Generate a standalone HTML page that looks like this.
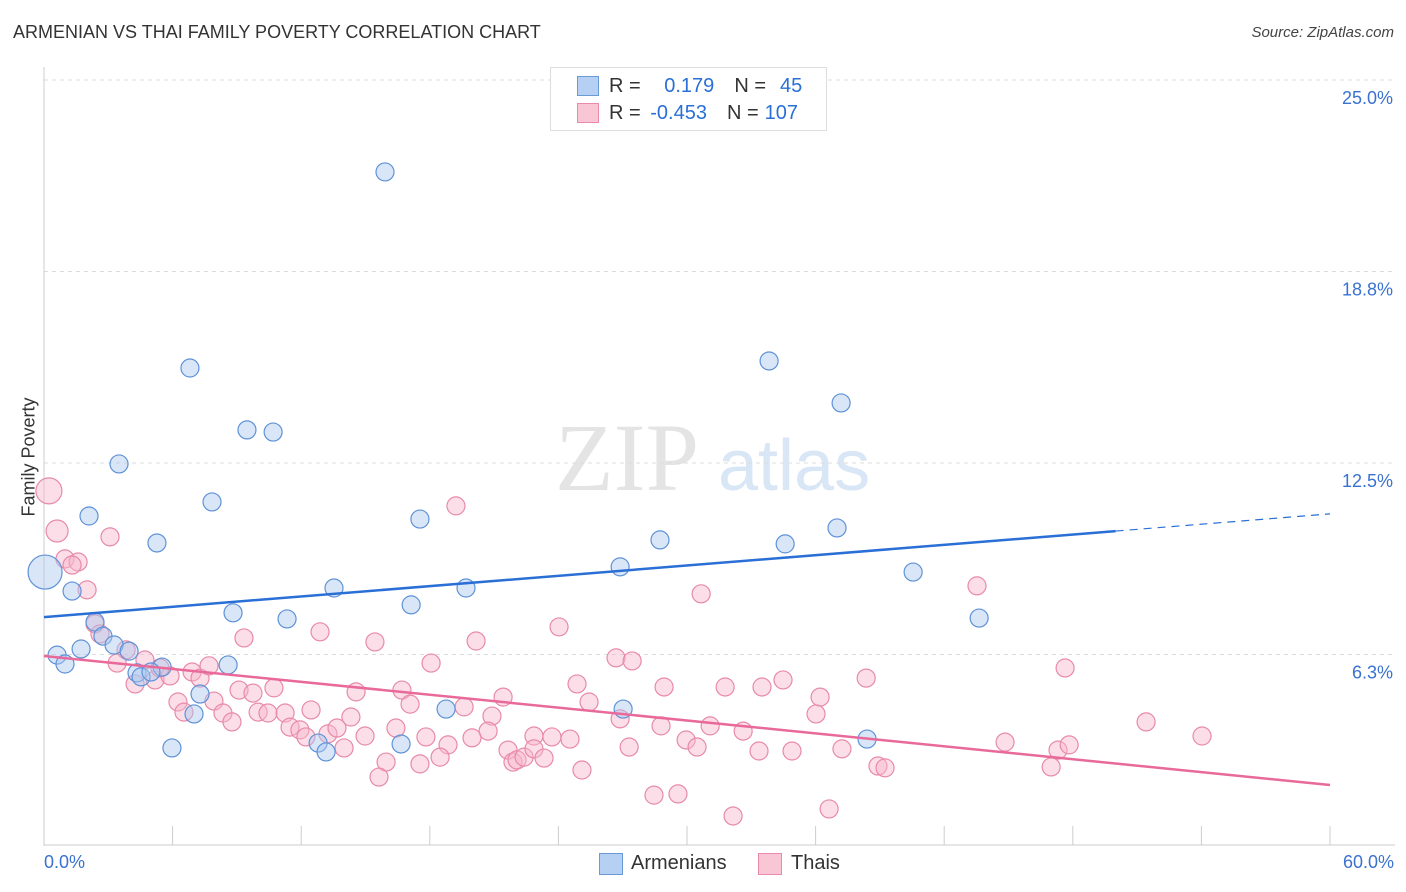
<!DOCTYPE html>
<html><head><meta charset="utf-8"><style>
body{margin:0;background:#fff;font-family:"Liberation Sans",sans-serif;}
#wrap{position:relative;width:1406px;height:892px;overflow:hidden;}
.t{position:absolute;white-space:nowrap;}
</style></head><body>
<div id="wrap">
<div class="t" style="left:13px;top:22px;font-size:18px;color:#333;">ARMENIAN VS THAI FAMILY POVERTY CORRELATION CHART</div>
<div class="t" style="right:12px;top:24px;font-size:15px;color:#444;font-style:italic;">Source: ZipAtlas.com</div>
<svg id="svg" width="1406" height="892" style="position:absolute;left:0;top:0;"></svg>
</div>
<script>
const yTicks=[25,18.75,12.5,6.25];
const yTickLabels=["25.0%","18.8%","12.5%","6.3%"];
const armX=[15.91,6.81,33.83,37.19,9.47,10.69,3.50,7.84,2.10,17.54,37.00,5.27,28.74,34.58,26.88,40.55,13.53,19.69,1.31,17.13,8.82,11.34,43.63,2.38,2.75,3.27,1.73,0.61,3.97,0.98,5.51,8.59,4.34,4.53,4.99,7.28,18.76,27.02,7.00,38.40,5.97,12.79,13.16,16.66,0.05];
const armY=[22.00,15.60,15.83,14.46,13.58,13.51,12.47,11.23,10.77,10.67,10.38,9.89,9.99,9.86,9.11,8.94,8.42,8.42,8.32,7.87,7.61,7.41,7.44,7.31,6.85,6.56,6.43,6.23,6.36,5.94,5.84,5.91,5.65,5.52,5.68,4.96,4.47,4.47,4.31,3.49,3.20,3.36,3.07,3.33,8.94];
const thaiX=[0.23,0.61,0.98,1.59,1.31,2.01,3.08,19.22,43.53,30.66,2.38,2.61,3.83,3.41,4.71,4.25,5.18,5.88,5.41,6.91,7.28,7.70,9.33,12.88,15.44,20.16,24.03,26.69,27.44,18.06,47.64,38.36,34.48,33.50,31.78,28.93,24.87,21.42,25.43,16.70,14.56,10.73,9.10,9.75,7.93,6.25,6.53,8.35,8.77,9.99,10.45,11.25,12.46,14.32,17.08,19.60,20.90,36.21,36.02,26.88,28.79,31.08,32.62,51.42,54.03,11.48,11.94,12.22,13.25,13.67,14.98,16.42,17.82,20.72,22.86,23.70,24.54,19.97,14.00,18.85,18.48,17.54,15.96,15.63,21.65,21.88,22.07,22.40,22.86,23.33,27.30,29.96,30.47,33.36,34.90,37.23,38.91,39.24,44.84,47.31,47.83,46.99,25.10,28.46,29.58,32.15,36.63];
const thaiY=[11.59,10.28,9.37,9.27,9.17,8.36,10.09,11.10,8.49,8.23,7.25,6.92,6.40,5.97,6.07,5.29,5.42,5.55,5.81,5.68,5.48,5.88,6.79,6.99,6.66,6.69,7.15,6.14,6.04,5.97,5.81,5.48,5.42,5.19,5.19,5.19,5.29,4.86,4.70,5.09,5.03,5.16,5.09,4.99,4.73,4.70,4.37,4.34,4.05,4.37,4.34,4.34,4.44,4.21,4.63,4.54,4.24,4.86,4.31,4.15,3.92,3.92,3.75,4.05,3.59,3.88,3.79,3.56,3.66,3.85,3.59,3.85,3.56,3.75,3.59,3.56,3.49,3.53,3.20,3.30,2.90,2.68,2.74,2.25,3.13,2.74,2.81,2.90,3.17,2.87,3.23,3.46,3.23,3.10,3.10,3.17,2.61,2.55,3.39,3.13,3.30,2.58,2.48,1.66,1.70,0.98,1.21];
const armLine=[7.47,10.84]; // y at x=0 and x=60
const thaiLine=[6.20,1.99];
const X0=44,X1=1330,YB=846,YS=191.5/6.25;
const sx=v=>X0+(X1-X0)*v/60, sy=v=>YB-v*YS;
const svg=document.getElementById('svg');const NS="http://www.w3.org/2000/svg";
function mk(t,a){const e=document.createElementNS(NS,t);for(const k in a)e.setAttribute(k,a[k]);svg.appendChild(e);return e;}
// watermark
let w=mk('text',{x:555,y:490,'font-size':96,fill:'#e4e4e4','font-family':'Liberation Serif'});w.textContent='ZIP';


let w2=mk('text',{x:718,y:490,'font-size':72,fill:'#d8e6f6','font-family':'Liberation Sans'});w2.textContent='atlas';


yTicks.forEach((v,i)=>{
 const g=mk('line',{x1:X0,x2:1395,y1:sy(v),y2:sy(v),stroke:'#dcdcdc','stroke-dasharray':'4,4'});
 
 
 const t=mk('text',{x:1393,y:sy(v)+24,'text-anchor':'end','font-size':18,fill:'#3a72d0'});t.textContent=yTickLabels[i];
 
 
});
let ax=mk('line',{x1:X0,x2:X0,y1:67,y2:846,stroke:'#ccc'});


let bx=mk('line',{x1:X0,x2:1395,y1:845,y2:845,stroke:'#ccc'});


for(let i=0;i<=10;i++){const l=mk('line',{x1:sx(i*6),x2:sx(i*6),y1:826,y2:845,stroke:'#ccc'});
 
 }
function dots(xs,ys,fill,stroke,name){xs.forEach((x,i)=>{
 let r=9; if(name==='armenian-point'&&i===xs.length-1)r=17;
 if(name==='thai-point'&&i<2)r=i===0?13:11;
 const c=mk('circle',{cx:sx(x),cy:sy(ys[i]),r:r,fill:fill,'fill-opacity':0.45,stroke:stroke,'stroke-width':1.2});
 
 
});}
dots(thaiX,thaiY,'#f7b6cb','#e88aa8','thai-point');
dots(armX,armY,'#a9c7f0','#5f92d8','armenian-point');
let l1=mk('line',{x1:sx(0),y1:sy(armLine[0]),x2:sx(50),y2:sy(armLine[0]+(armLine[1]-armLine[0])*50/60),stroke:'#2a6fd6','stroke-width':2.5});


let l2=mk('line',{x1:sx(50),y1:sy(armLine[0]+(armLine[1]-armLine[0])*50/60),x2:sx(60),y2:sy(armLine[1]),stroke:'#2a6fd6','stroke-width':1.2,'stroke-dasharray':'8,6'});


let l3=mk('line',{x1:sx(0),y1:sy(thaiLine[0]),x2:sx(60),y2:sy(thaiLine[1]),stroke:'#e8699a','stroke-width':2.5});


</script>
<div class="t" style="left:44px;top:852px;font-size:18px;color:#3a72d0;">0.0%</div>
<div class="t" style="right:12px;top:852px;font-size:18px;color:#3a72d0;">60.0%</div>
<div class="t" style="left:17px;top:457px;font-size:18px;color:#333;transform:translate(-50%,-50%) rotate(-90deg);transform-origin:center;margin-left:12px;">Family Poverty</div>
<div class="t" style="left:550px;top:67px;width:275px;height:62px;border:1px solid #ddd;background:#fff;font-size:20px;">
 <div class="t" style="left:26px;top:8px;width:20px;height:18px;background:#b6d0f4;border:1px solid #6a9ad8;"></div>
 <div class="t" style="left:58px;top:7px;color:#333;">R = <span style="color:#2a6fd6;margin-left:18px;">0.179</span><span style="color:#333;margin-left:20px;">N =</span><span style="color:#2a6fd6;margin-left:14px;">45</span></div>
 <div class="t" style="left:26px;top:35px;width:20px;height:18px;background:#f9c6d6;border:1px solid #e88aa8;"></div>
 <div class="t" style="left:58px;top:34px;color:#333;">R = <span style="color:#2a6fd6;margin-left:4px;">-0.453</span><span style="color:#333;margin-left:20px;">N =</span><span style="color:#2a6fd6;margin-left:6px;">107</span></div>
</div>
<div class="t" style="left:599px;top:853px;width:22px;height:20px;background:#b6d0f4;border:1px solid #6a9ad8;"></div>
<div class="t" style="left:631px;top:852px;font-size:20px;color:#333;">Armenians</div>
<div class="t" style="left:758px;top:853px;width:22px;height:20px;background:#f9c6d6;border:1px solid #e88aa8;"></div>
<div class="t" style="left:791px;top:852px;font-size:20px;color:#333;">Thais</div>
</body></html>
